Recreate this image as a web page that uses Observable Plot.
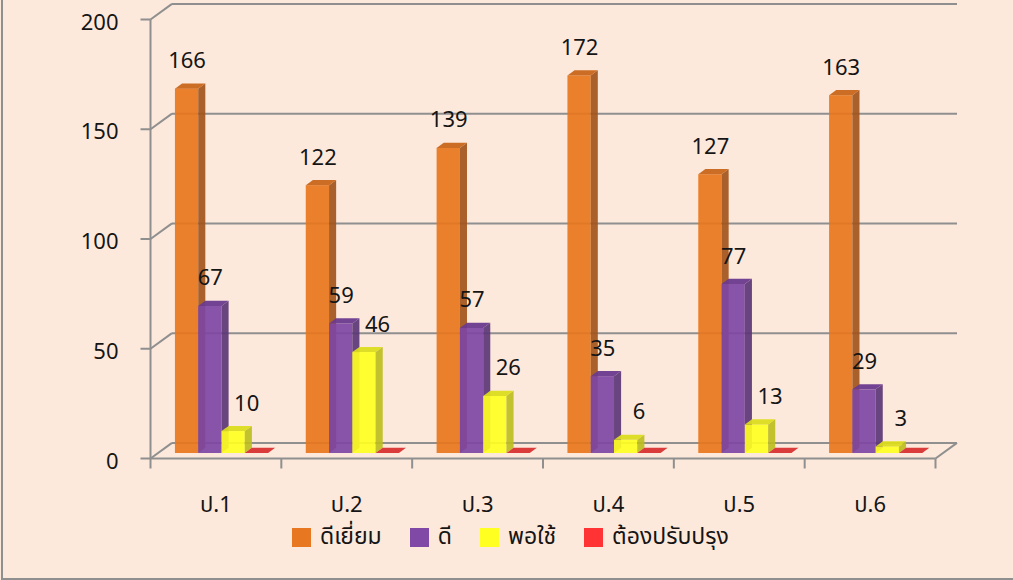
<!DOCTYPE html>
<html>
<head>
<meta charset="utf-8">
<script src="https://cdn.jsdelivr.net/npm/d3@7"></script>
<script src="https://cdn.jsdelivr.net/npm/@observablehq/plot@0.6"></script>
<style>
  html, body { margin: 0; padding: 0; background: #fde9dc; }
  #wrap { position: relative; width: 1013px; height: 580px; overflow: hidden; background: #fde9dc;
          font-family: "Noto Sans Thai", "Noto Sans", "DejaVu Sans", sans-serif; color: #151515; }
  #frame { position: absolute; left: 1px; top: -10px; width: 1100px; height: 590px; border: 2px solid #8f8f8f; box-sizing: border-box; }
  #chart { position: absolute; left: 0; top: 0; }
  #legend { position: absolute; left: 292px; top: 520px; display: flex; justify-content: flex-start; align-items: center; gap: 28px; font-size: 23px; }
  .item { display: flex; align-items: center; gap: 9px; }
  .sw { width: 19px; height: 19px; display: inline-block; }
</style>
</head>
<body>
<div id="wrap">
  <div id="frame"></div>
  <div id="chart"></div>
  <div id="legend"></div>
</div>
<script>
const categories = ["ป.1", "ป.2", "ป.3", "ป.4", "ป.5", "ป.6"];
const seriesNames = ["ดีเยี่ยม", "ดี", "พอใช้", "ต้องปรับปรุง"];
const excellent = [166, 122, 139, 172, 127, 163];
const good = [67, 59, 57, 35, 77, 29];
const fair = [10, 46, 26, 6, 13, 3];
const improve = [0, 0, 0, 0, 0, 0];
const yTicks = [0, 50, 100, 150, 200];

const seriesValues = [excellent, good, fair, improve];
const frontColors = ["#e8761c", "#7e47a4", "#ffff22", "#d83232"];
const sideColors = ["#a3541a", "#5c3677", "#bdbd1e", "#b02828"];
const topColors = ["#c9661a", "#6b3a8e", "#dcdc1c", "#d83232"];
const legendColors = ["#e87722", "#7f49a5", "#ffff22", "#ff3333"];
const labelDx = [0, 0, 13, 0];

// layout
const W = 1013, H = 520, mL = 150, mR = 78, mT = 19, mB = 62;
const yMax = 200;
const nCat = categories.length;
const pxX = (W - mL - mR) / nCat;
const pxY = (H - mT - mB) / yMax;
const DX = 21.5 / pxX;      // full depth offset, x units
const DY = 15.6 / pxY;      // full depth offset, y units
const z0 = 0.32, z1 = 0.65; // bar depth range
const barStart = 0.138, barW = 0.178;
const tickX = 10 / pxX, tickY = 10 / pxY;

const bars = [];
seriesValues.forEach((vals, k) => {
  vals.forEach((v, i) => {
    const x1 = i + barStart + k * barW;
    bars.push({id: `${i}-${k}`, k, i, cat: categories[i], series: seriesNames[k], value: v, x1, x2: x1 + barW});
  });
});

const barMarks = seriesValues.flatMap((_, k) => {
  const d = bars.filter(b => b.k === k);
  const side = d.flatMap(b => [z0, z1].map(z => ({id: b.id, x: b.x2 + z * DX, y1: z * DY, y2: b.value + z * DY})));
  const top = d.flatMap(b => [z0, z1].map(z => ({id: b.id, y: b.value + z * DY, x1: b.x1 + z * DX, x2: b.x2 + z * DX})));
  return [
    Plot.rect(d, {x1: b => b.x1 + z0 * DX, x2: b => b.x2 + z0 * DX, y1: z0 * DY, y2: b => b.value + z0 * DY, fill: frontColors[k], fillOpacity: 0.92}),
    Plot.areaY(side, {x: "x", y1: "y1", y2: "y2", z: "id", fill: sideColors[k], fillOpacity: 0.92}),
    Plot.areaX(top, {y: "y", x1: "x1", x2: "x2", z: "id", fill: topColors[k], fillOpacity: 0.95})
  ];
});

const gridColor = "#8f8f8f";
const labels = bars.filter(b => b.value > 0);
const font = "'Noto Sans Thai', 'Noto Sans', 'DejaVu Sans', sans-serif";

const chart = Plot.plot({
  width: W, height: H,
  marginLeft: mL, marginRight: mR, marginTop: mT, marginBottom: mB,
  style: {background: "transparent", fontFamily: font, color: "#151515", overflow: "visible"},
  x: {type: "linear", domain: [0, nCat], axis: null},
  y: {type: "linear", domain: [0, yMax], axis: null},
  marks: [
    // back wall gridlines
    Plot.link(yTicks, {x1: DX, x2: nCat + DX, y1: d => d + DY, y2: d => d + DY, stroke: gridColor, strokeWidth: 2}),
    // left wall diagonals
    Plot.link(yTicks, {x1: 0, x2: DX, y1: d => d, y2: d => d + DY, stroke: gridColor, strokeWidth: 2}),
    // floor front edge and right edge
    Plot.link([0], {x1: 0, x2: nCat, y1: 0, y2: 0, stroke: gridColor, strokeWidth: 2}),
    Plot.link([0], {x1: nCat, x2: nCat + DX, y1: 0, y2: DY, stroke: gridColor, strokeWidth: 2}),
    // y axis line
    Plot.link([0], {x1: 0, x2: 0, y1: 0, y2: yMax, stroke: gridColor, strokeWidth: 2}),
    // y ticks and labels
    Plot.link(yTicks, {x1: -tickX, x2: 0, y1: d => d, y2: d => d, stroke: gridColor, strokeWidth: 2}),
    Plot.text(yTicks, {x: 0, y: d => d, dx: -32, dy: 3, textAnchor: "end", text: d => String(d), fontSize: 22, fill: "#151515"}),
    // x ticks
    Plot.link(d3.range(nCat + 1), {x1: d => d, x2: d => d, y1: 0, y2: -tickY, stroke: gridColor, strokeWidth: 2}),
    ...barMarks,
    ...[0, 1, 2].map(k => Plot.text(labels.filter(b => b.k === k), {x: b => (b.x1 + b.x2) / 2 + z0 * DX, y: b => b.value + z0 * DY, text: b => String(b.value), dy: -28, dx: labelDx[k], fontSize: 22, fill: "#151515"})),
    Plot.text(categories, {x: (d, i) => i + 0.5, y: 0, dy: 46, text: d => d, fontSize: 22, fill: "#151515"})
  ]
});
document.getElementById("chart").appendChild(chart);

const legend = document.getElementById("legend");
seriesNames.forEach((name, k) => {
  const item = document.createElement("div");
  item.className = "item";
  const sw = document.createElement("span");
  sw.className = "sw";
  sw.style.background = legendColors[k];
  const t = document.createElement("span");
  t.textContent = name;
  item.appendChild(sw);
  item.appendChild(t);
  legend.appendChild(item);
});
</script>
</body>
</html>
